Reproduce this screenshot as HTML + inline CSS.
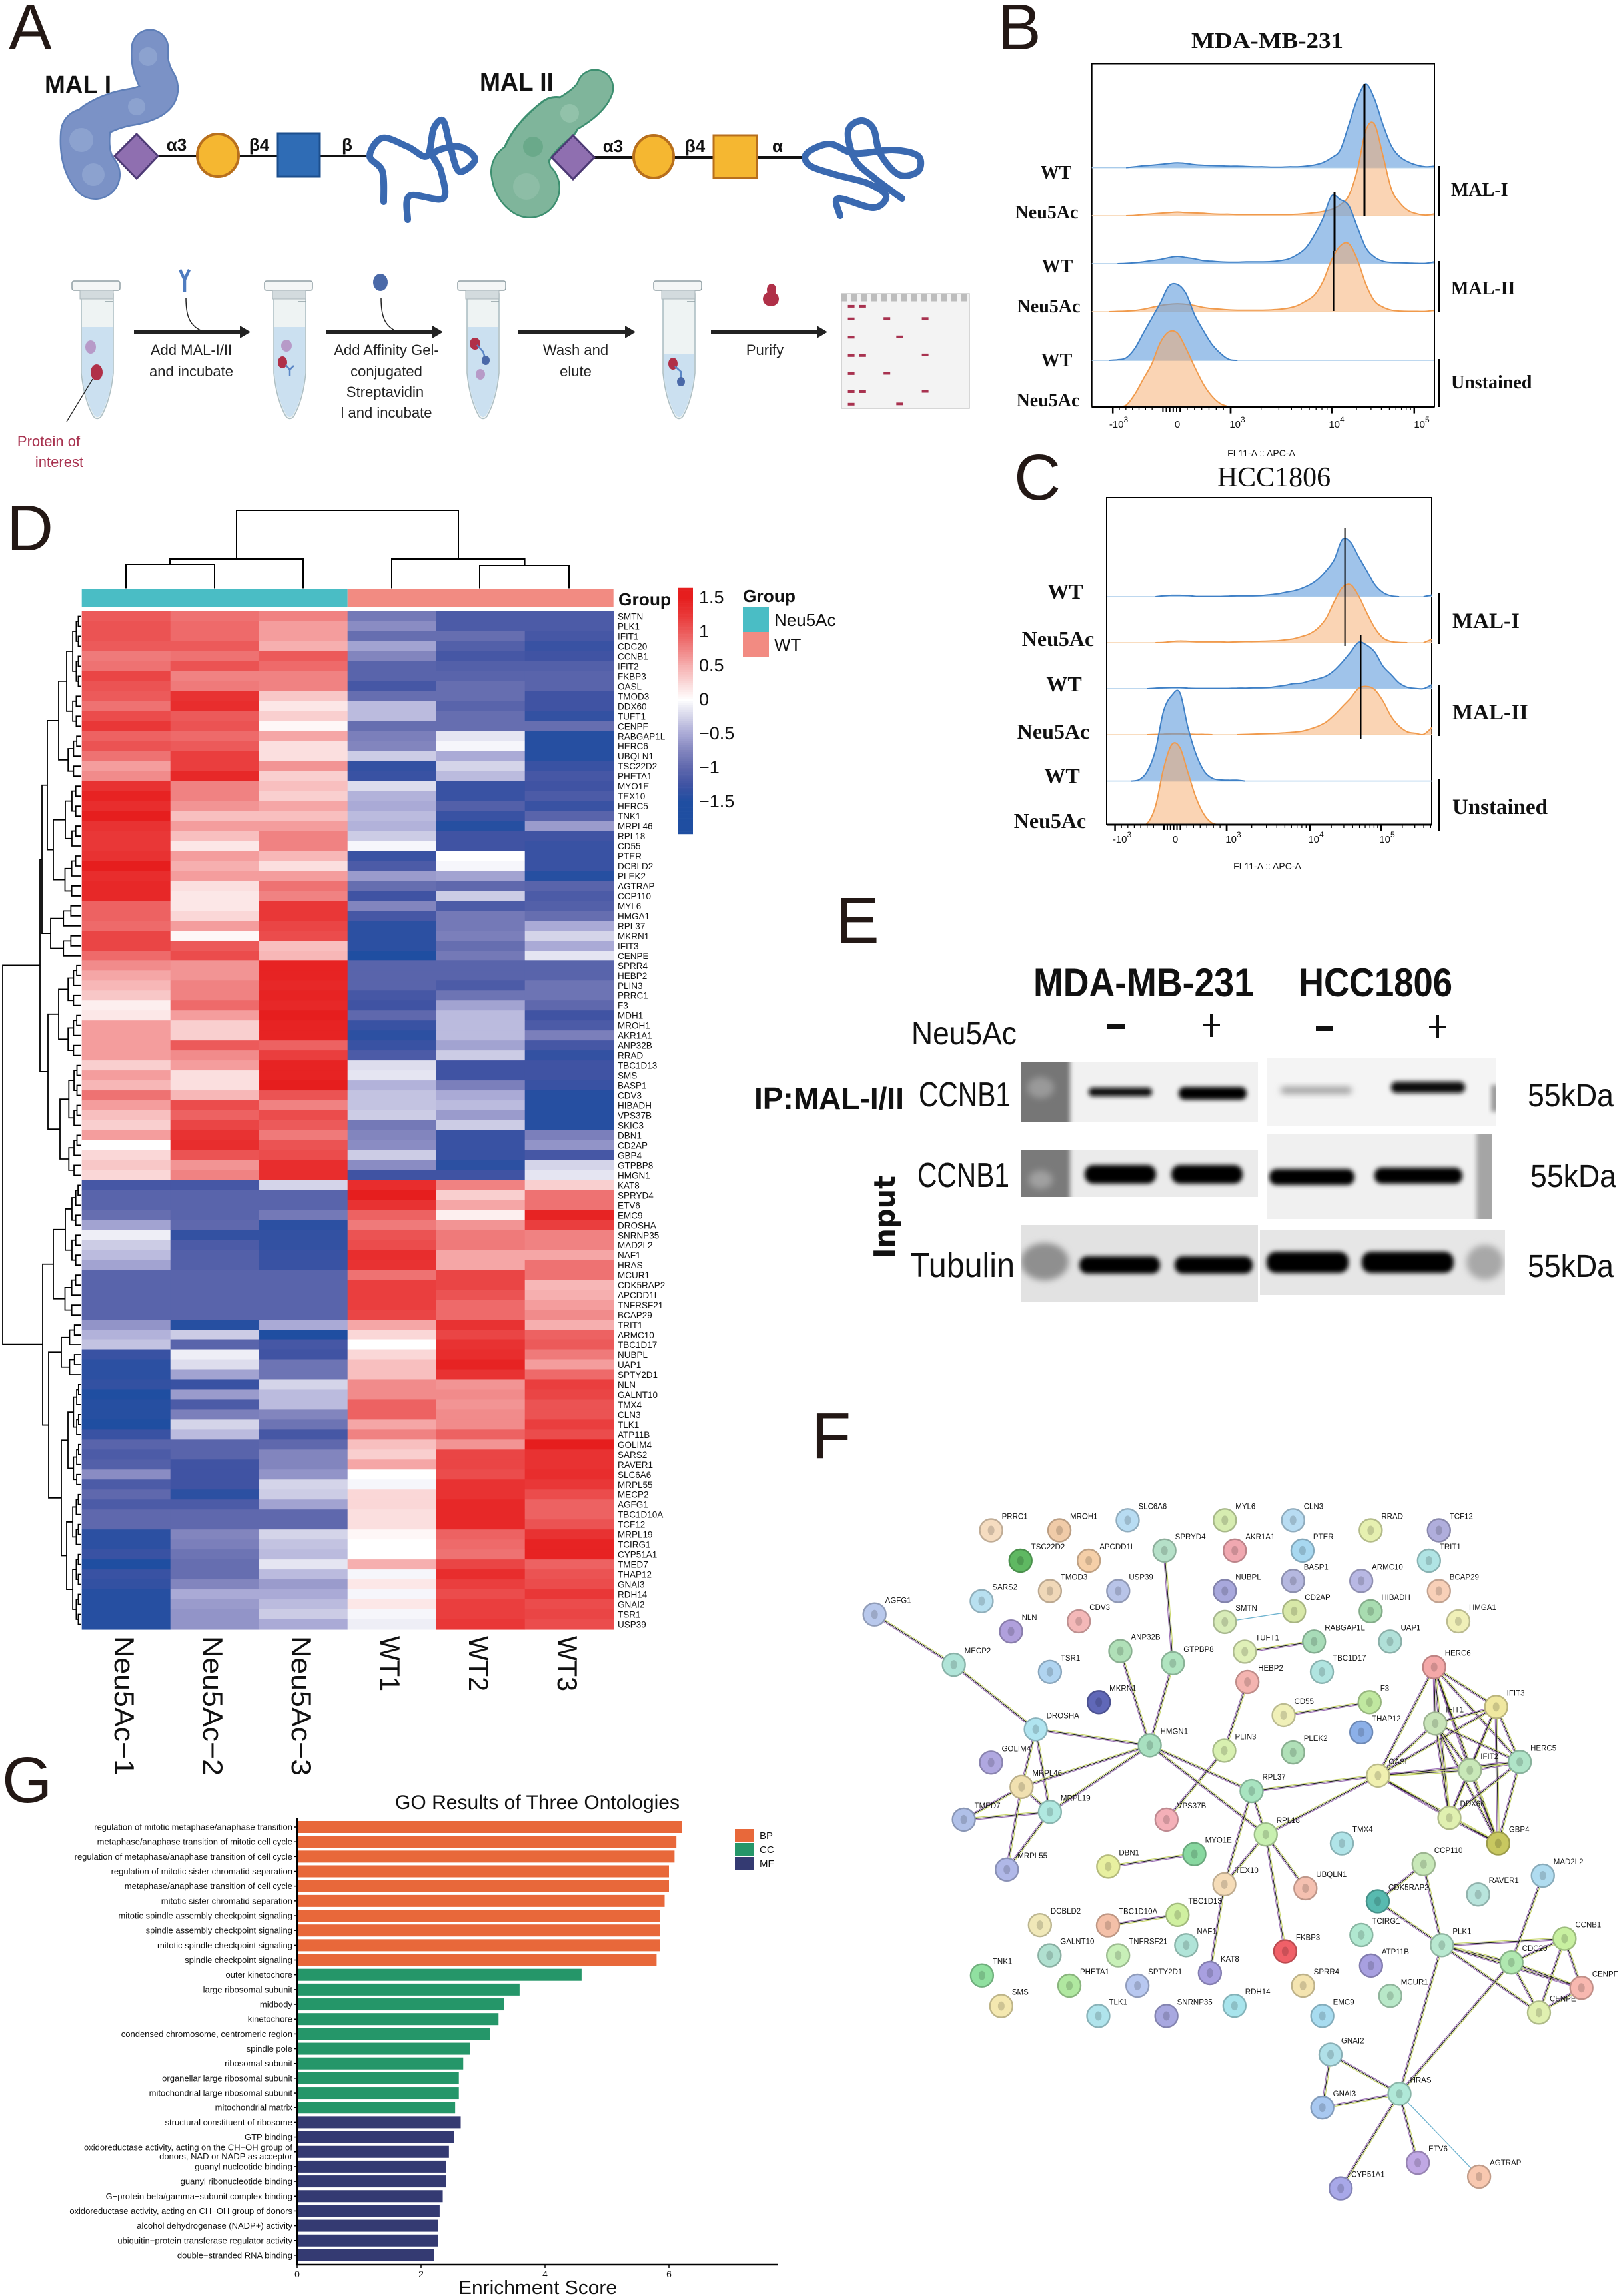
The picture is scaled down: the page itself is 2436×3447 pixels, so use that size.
<!DOCTYPE html>
<html lang="en">
<head>
<meta charset="utf-8">
<title>Neu5Ac sialylation figure panels A to G</title>
<style>
html,body{margin:0;padding:0;background:#fff;}
svg{display:block;}
text{font-family:"Liberation Sans",sans-serif;fill:#111;}
.serif{font-family:"Liberation Serif",serif;}
.letter{font-size:97px;fill:#231815;}
.wf{font-size:22px;text-anchor:middle;fill:#222;}
.sb{font-family:"Liberation Serif",serif;font-weight:bold;}
</style>
</head>
<body>
<svg id="fig" width="2436" height="3447" viewBox="0 0 2436 3447">
<defs>
<filter id="b2" x="-30%" y="-80%" width="160%" height="260%"><feGaussianBlur stdDeviation="3.5"/></filter>
<filter id="b5" x="-30%" y="-80%" width="160%" height="260%"><feGaussianBlur stdDeviation="5"/></filter>
<filter id="b9" x="-50%" y="-50%" width="200%" height="200%"><feGaussianBlur stdDeviation="9"/></filter>
<g id="tube-shape">
<path d="M-24,441 L-24,560 Q-20,600 -6,625 Q0,632 6,625 Q20,600 24,560 L24,441 Z" fill="#eef3f3" stroke="#aebfc4" stroke-width="1.6"/>
<rect x="-38" y="422" width="72" height="14" rx="3" fill="#f4f6f6" stroke="#8f9ea3" stroke-width="1.5"/>
<rect x="-26" y="436" width="50" height="13" fill="#d3dbde" stroke="#aab6ba" stroke-width="1"/>
<line x1="12" y1="453" x2="24" y2="453" stroke="#8f9ea3" stroke-width="1.5"/>
</g>
</defs>

<!-- panel letters -->
<g>
<text class="letter" x="13" y="74">A</text>
<text class="letter" x="1498" y="74">B</text>
<text class="letter" x="1522" y="750">C</text>
<text class="letter" x="10" y="826">D</text>
<text class="letter" x="1255" y="1415">E</text>
<text class="letter" x="1218" y="2189">F</text>
<text class="letter" x="3" y="2706">G</text>
</g>

<!-- PANEL A -->
<g id="panel-a">
<g fill="none" stroke-linecap="round" stroke-linejoin="round">
<path d="M225,72 Q222,100 238,125 Q248,150 200,160 Q165,165 140,182" stroke="#5f7fb8" stroke-width="57"/>
<path d="M128,200 Q125,240 143,262" stroke="#5f7fb8" stroke-width="76"/>
<path d="M225,72 Q222,100 238,125 Q248,150 200,160 Q165,165 140,182" stroke="#7b92c6" stroke-width="52"/>
<path d="M128,200 Q125,240 143,262" stroke="#7b92c6" stroke-width="71"/>
<circle cx="222" cy="85" r="14" fill="#8ca2cf"/><circle cx="205" cy="160" r="13" fill="#8ca2cf"/><circle cx="122" cy="210" r="18" fill="#8ca2cf"/><circle cx="140" cy="262" r="17" fill="#8ca2cf"/>
</g>
<g fill="none" stroke-linecap="round" stroke-linejoin="round">
<path d="M893,132 Q885,155 835,180" stroke="#3d8f70" stroke-width="57"/>
<path d="M835,180 Q790,215 785,250" stroke="#3d8f70" stroke-width="72"/>
<path d="M782,258 Q784,275 795,282" stroke="#3d8f70" stroke-width="92"/>
<path d="M893,132 Q885,155 835,180" stroke="#7fb59b" stroke-width="52"/>
<path d="M835,180 Q790,215 785,250" stroke="#7fb59b" stroke-width="66"/>
<path d="M782,258 Q784,275 795,282" stroke="#7fb59b" stroke-width="87"/>
<circle cx="855" cy="170" r="14" fill="#92c2aa"/><circle cx="800" cy="220" r="15" fill="#6aa98a"/><circle cx="790" cy="280" r="20" fill="#8dbda6"/>
</g>
<text x="67" y="140" font-size="38" font-weight="bold" textLength="100" lengthAdjust="spacingAndGlyphs">MAL I</text>
<text x="720" y="136" font-size="38" font-weight="bold" textLength="111" lengthAdjust="spacingAndGlyphs">MAL II</text>
<line x1="237" y1="234" x2="556" y2="234" stroke="#111" stroke-width="4"/>
<line x1="892" y1="236" x2="1210" y2="236" stroke="#111" stroke-width="4"/>
<polygon points="205,201 237,234 205,268 172,234" fill="#8f6fb0" stroke="#4d3a75" stroke-width="3"/>
<ellipse cx="327" cy="233" rx="31" ry="32" fill="#f5b731" stroke="#b86f1c" stroke-width="4"/>
<rect x="417" y="200" width="63" height="65" fill="#2f6cb5" stroke="#1c4f8e" stroke-width="3"/>
<polygon points="860,203 892,236 860,269 828,236" fill="#8f6fb0" stroke="#4d3a75" stroke-width="3"/>
<ellipse cx="981" cy="235" rx="30" ry="32" fill="#f5b731" stroke="#b86f1c" stroke-width="4"/>
<rect x="1071" y="203" width="65" height="64" fill="#f5b731" stroke="#b86f1c" stroke-width="3"/>
<g font-size="26" font-weight="bold" text-anchor="middle">
<text x="265" y="226">α3</text>
<text x="389" y="226">β4</text>
<text x="521" y="226">β</text>
<text x="920" y="228">α3</text>
<text x="1043" y="228">β4</text>
<text x="1167" y="228">α</text>
</g>
<path id="strand-i" fill="none" stroke="#3a69b0" stroke-width="10" stroke-linecap="round" stroke-linejoin="round"/>
<path id="strand-ii" fill="none" stroke="#3a69b0" stroke-width="10" stroke-linecap="round" stroke-linejoin="round"/>

<use href="#tube-shape" transform="translate(146,0)"/>
<use href="#tube-shape" transform="translate(435,0)"/>
<use href="#tube-shape" transform="translate(725,0)"/>
<use href="#tube-shape" transform="translate(1019,0)"/>
<g fill="#c7deef" fill-opacity=".9">
<path d="M123,491 L123,560 Q127,599 141,623 Q146,629 151,623 Q165,599 169,560 L169,491 Z"/>
<path d="M412,491 L412,560 Q416,599 430,623 Q435,629 440,623 Q454,599 458,560 L458,491 Z"/>
<path d="M702,491 L702,560 Q706,599 720,623 Q725,629 730,623 Q744,599 748,560 L748,491 Z"/>
<path d="M996,531 L996,560 Q1000,599 1014,623 Q1019,629 1024,623 Q1038,599 1042,560 L1042,531 Z"/>
</g>
<g>
<ellipse cx="136" cy="521" rx="8" ry="10" fill="#b79ac8"/>
<ellipse cx="145" cy="559" rx="9" ry="12" fill="#b03048"/>
<ellipse cx="430" cy="519" rx="8" ry="9" fill="#b79ac8"/>
<ellipse cx="424" cy="544" rx="7" ry="9" fill="#b03048"/>
<path d="M429,548 L435,555 L435,565 M441,549 L435,555" stroke="#5a86c6" stroke-width="2.5" fill="none"/>
<ellipse cx="713" cy="516" rx="8" ry="9" fill="#b03048"/>
<path d="M716,518 L725,528 L729,540" stroke="#5a86c6" stroke-width="2.5" fill="none"/>
<ellipse cx="729" cy="541" rx="6" ry="7" fill="#4a69a8"/>
<ellipse cx="721" cy="562" rx="7" ry="8" fill="#b79ac8"/>
<ellipse cx="1010" cy="546" rx="7" ry="9" fill="#b03048"/>
<path d="M1013,550 L1022,558 L1022,570" stroke="#5a86c6" stroke-width="2.5" fill="none"/>
<ellipse cx="1022" cy="573" rx="6" ry="7" fill="#4a69a8"/>
</g>
<line x1="139" y1="569" x2="100" y2="633" stroke="#222" stroke-width="1.3"/>
<g stroke="#222" stroke-width="5">
<line x1="201" y1="498.5" x2="364" y2="498.5"/>
<line x1="489" y1="498.5" x2="652" y2="498.5"/>
<line x1="778" y1="498.5" x2="941" y2="498.5"/>
<line x1="1067" y1="498.5" x2="1230" y2="498.5"/>
</g>
<g fill="#222">
<polygon points="360,489 376,498.5 360,508"/>
<polygon points="649,489 665,498.5 649,508"/>
<polygon points="938,489 954,498.5 938,508"/>
<polygon points="1226,489 1242,498.5 1226,508"/>
</g>
<path d="M279,447 C279,470 282,490 306,498" fill="none" stroke="#222" stroke-width="1.5"/>
<path d="M270,405 L277,420 L277,438 M284,405 L277,420" fill="none" stroke="#4f7cc0" stroke-width="4.5"/>
<ellipse cx="571" cy="424" rx="11" ry="13" fill="#4a69a8"/>
<path d="M572,447 C572,470 575,490 597,498" fill="none" stroke="#222" stroke-width="1.5"/>
<g fill="#b03048">
<ellipse cx="1157" cy="449" rx="12" ry="11"/>
<ellipse cx="1158" cy="435" rx="7" ry="9"/>
</g>
<g>
<text class="wf" x="287" y="533">Add MAL-I/II</text>
<text class="wf" x="287" y="565">and incubate</text>
<text class="wf" x="580" y="533">Add Affinity Gel-</text>
<text class="wf" x="580" y="565">conjugated</text>
<text class="wf" x="578" y="596">Streptavidin</text>
<text class="wf" x="580" y="627">l and incubate</text>
<text class="wf" x="864" y="533">Wash and</text>
<text class="wf" x="864" y="565">elute</text>
<text class="wf" x="1148" y="533">Purify</text>
<text class="wf" x="73" y="670" style="fill:#a8324f">Protein of</text>
<text class="wf" x="89" y="701" style="fill:#a8324f">interest</text>
</g>
<g id="gel">
<rect x="1263" y="441" width="192" height="172" fill="#f3f3f3" stroke="#c9c9c9" stroke-width="1.5"/>
<line x1="1263" y1="447" x2="1455" y2="447" stroke="#bdbdbd" stroke-width="11" stroke-dasharray="9 6"/>
</g>
</g>

<!-- PANEL B / C static -->
<g id="panel-b">
<text class="sb" x="1902" y="72" font-size="34" text-anchor="middle" textLength="228" lengthAdjust="spacingAndGlyphs">MDA-MB-231</text>
</g>
<g id="panel-c">
<text class="serif" x="1912" y="730" font-size="42" text-anchor="middle">HCC1806</text>
</g>

<!-- PANEL D -->
<g id="panel-d"></g>

<!-- PANEL E -->
<g id="panel-e">
<text x="1551" y="1496" font-size="60" font-weight="bold" textLength="331" lengthAdjust="spacingAndGlyphs">MDA-MB-231</text>
<text x="1949" y="1496" font-size="60" font-weight="bold" textLength="231" lengthAdjust="spacingAndGlyphs">HCC1806</text>
<text x="1368" y="1568" font-size="48" textLength="158" lengthAdjust="spacingAndGlyphs">Neu5Ac</text>
<g fill="#111">
<rect x="1662" y="1537" width="26" height="8"/>
<rect x="1805" y="1537" width="26" height="4"/>
<rect x="1816" y="1522" width="4" height="35"/>
<rect x="1975" y="1540" width="26" height="8"/>
<rect x="2145" y="1540" width="26" height="4"/>
<rect x="2156" y="1524" width="4" height="35"/>
</g>

<svg x="1532" y="1595" width="356" height="90">
<rect width="356" height="90" fill="#f1f1f1"/>
<rect x="-10" y="-10" width="84" height="110" fill="#767676" filter="url(#b2)"/>
<ellipse cx="30" cy="38" rx="20" ry="16" fill="#9a9a9a" filter="url(#b5)"/>
<rect x="102" y="38" width="95" height="13" rx="6" fill="#0c0c0c" filter="url(#b2)"/>
<rect x="237" y="37" width="102" height="19" rx="9" fill="#050505" filter="url(#b2)"/>
</svg>
<svg x="1901" y="1589" width="345" height="101">
<rect width="345" height="101" fill="#f4f4f4"/>
<rect x="21" y="43" width="107" height="10" rx="5" fill="#9a9a9a" filter="url(#b5)"/>
<rect x="187" y="35" width="111" height="17" rx="8" fill="#0a0a0a" filter="url(#b2)"/>
<rect x="337" y="40" width="12" height="40" fill="#999" filter="url(#b2)"/>
</svg>
<svg x="1532" y="1726" width="356" height="71">
<rect width="356" height="71" fill="#ebebeb"/>
<rect x="-10" y="-10" width="84" height="95" fill="#7a7a7a" filter="url(#b2)"/>
<ellipse cx="30" cy="45" rx="18" ry="14" fill="#a0a0a0" filter="url(#b5)"/>
<rect x="96" y="23" width="107" height="28" rx="13" fill="#020202" filter="url(#b2)"/>
<rect x="226" y="23" width="107" height="28" rx="13" fill="#020202" filter="url(#b2)"/>
</svg>
<svg x="1901" y="1702" width="339" height="128">
<rect width="339" height="128" fill="#f0f0f0"/>
<rect x="4" y="53" width="128" height="24" rx="11" fill="#020202" filter="url(#b2)"/>
<rect x="162" y="51" width="132" height="24" rx="11" fill="#020202" filter="url(#b2)"/>
<rect x="315" y="-5" width="30" height="140" fill="#a5a5a5" filter="url(#b2)"/>
</svg>
<svg x="1532" y="1839" width="356" height="115">
<rect width="356" height="115" fill="#e2e2e2"/>
<ellipse cx="36" cy="55" rx="36" ry="28" fill="#8f8f8f" filter="url(#b5)"/>
<rect x="88" y="47" width="121" height="26" rx="12" fill="#020202" filter="url(#b2)"/>
<rect x="231" y="47" width="117" height="26" rx="12" fill="#020202" filter="url(#b2)"/>
</svg>
<svg x="1891" y="1847" width="368" height="97">
<rect width="368" height="97" fill="#e6e6e6"/>
<rect x="10" y="32" width="123" height="32" rx="14" fill="#020202" filter="url(#b2)"/>
<rect x="153" y="32" width="138" height="32" rx="14" fill="#020202" filter="url(#b2)"/>
<ellipse cx="338" cy="48" rx="28" ry="26" fill="#a8a8a8" filter="url(#b5)"/>
</svg>

<text x="1132" y="1665" font-size="46" font-weight="bold" textLength="225" lengthAdjust="spacingAndGlyphs">IP:MAL-I/II</text>
<text x="1379" y="1661" font-size="52" textLength="138" lengthAdjust="spacingAndGlyphs">CCNB1</text>
<text x="1377" y="1782" font-size="52" textLength="138" lengthAdjust="spacingAndGlyphs">CCNB1</text>
<text x="1366" y="1917" font-size="52" textLength="157" lengthAdjust="spacingAndGlyphs">Tubulin</text>
<text transform="translate(1343,1889) rotate(-90)" font-size="44" font-weight="bold" textLength="124" lengthAdjust="spacingAndGlyphs" style="font-family:'DejaVu Sans',sans-serif">Input</text>
<text x="2293" y="1661" font-size="48" textLength="129" lengthAdjust="spacingAndGlyphs">55kDa</text>
<text x="2297" y="1782" font-size="48" textLength="129" lengthAdjust="spacingAndGlyphs">55kDa</text>
<text x="2293" y="1917" font-size="48" textLength="129" lengthAdjust="spacingAndGlyphs">55kDa</text>
</g>

<g id="panel-f"></g>
<g id="panel-g"></g>
</svg>

<script>
/* ---------- panel B data: histogram heights per channel bin ---------- */
const bWt1 = [0,0,0,0,0,3,6,8,11,14,16,14,10,8,7,6,5,5,4,3,3,2,2,3,3,5,9,17,33,58,140,225,273,225,140,70,35,18,8,3,5];
const bNeu1 = [0,0,0,0,0,1,4,6,8,10,12,10,9,8,6,5,5,4,4,4,4,4,4,4,5,7,10,14,21,36,66,150,280,300,196,86,41,16,6,2,6];
const bWt2 = [0,0,0,0,1,3,6,10,14,20,24,20,16,10,8,6,5,5,6,6,6,7,10,16,30,52,95,150,222,210,190,120,52,22,8,4,3,2,1,1,6];
const bNeu2 = [0,0,0,1,2,4,8,14,20,24,26,24,20,14,10,8,6,5,5,5,5,6,8,12,20,35,55,100,170,215,222,170,90,35,15,5,2,1,1,1,5];
const bWt3 = [0,0,0,2,8,38,88,138,188,243,248,218,148,98,53,23,3,0,0,0,0,0,0,0,0,0,0,0,0,0,0,0,0,0,0,0,0,0,0,0,0];
const bNeu3 = [0,0,0,0,5,40,90,140,210,245,240,190,130,75,35,10,0,0,0,0,0,0,0,0,0,0,0,0,0,0,0,0,0,0,0,0,0,0,0,0,0];
/* ---------- panel C data ---------- */
const cWt1 = [0,0,0,0,0,0,0,3,5,5,4,1,1,1,1,2,3,3,3,4,7,10,16,21,30,43,63,93,133,205,195,143,93,43,15,3,0,0,0,0,6];
const cNeu1 = [0,0,0,0,0,0,0,1,4,6,5,3,3,3,3,2,3,4,4,5,6,7,10,14,22,32,52,87,147,197,207,167,107,52,17,4,1,0,0,0,12];
const cWt2 = [0,0,0,0,0,0,2,3,4,4,2,1,1,1,1,1,2,2,3,3,4,8,12,18,20,28,35,45,65,95,130,165,155,130,80,50,20,5,1,0,14];
const cNeu2 = [0,0,0,0,0,0,1,2,3,3,2,1,1,0,0,0,0,1,2,3,4,5,7,9,12,20,30,45,70,100,130,165,172,160,120,65,30,10,5,1,25];
const cWt3 = [0,0,0,0,5,35,110,250,305,315,190,95,35,10,4,3,3,0,0,0,0,0,0,0,0,0,0,0,0,0,0,0,0,0,0,0,0,0,0,0,0];
const cNeu3 = [0,0,0,0,0,5,65,200,285,275,185,95,35,5,0,0,0,0,0,0,0,0,0,0,0,0,0,0,0,0,0,0,0,0,0,0,0,0,0,0,0];
const flowGroupLabels = ['WT','Neu5Ac','WT','Neu5Ac','WT','Neu5Ac'];
const flowBracketLabels = ['MAL-I','MAL-II','Unstained'];
const flowTickExponents = ['3','','3','4','5'];
const flowTickBases = ['-10','0','10','10','10'];

/* ---------- panel D data ---------- */
const sampleLabels = ['Neu5Ac−1','Neu5Ac−2','Neu5Ac−3','WT1','WT2','WT3'];
const geneLabels = ['SMTN','PLK1','IFIT1','CDC20','CCNB1','IFIT2','FKBP3','OASL','TMOD3','DDX60','TUFT1','CENPF','RABGAP1L','HERC6','UBQLN1','TSC22D2','PHETA1','MYO1E','TEX10','HERC5','TNK1','MRPL46','RPL18','CD55','PTER','DCBLD2','PLEK2','AGTRAP','CCP110','MYL6','HMGA1','RPL37','MKRN1','IFIT3','CENPE','SPRR4','HEBP2','PLIN3','PRRC1','F3','MDH1','MROH1','AKR1A1','ANP32B','RRAD','TBC1D13','SMS','BASP1','CDV3','HIBADH','VPS37B','SKIC3','DBN1','CD2AP','GBP4','GTPBP8','HMGN1','KAT8','SPRYD4','ETV6','EMC9','DROSHA','SNRNP35','MAD2L2','NAF1','HRAS','MCUR1','CDK5RAP2','APCDD1L','TNFRSF21','BCAP29','TRIT1','ARMC10','TBC1D17','NUBPL','UAP1','SPTY2D1','NLN','GALNT10','TMX4','CLN3','TLK1','ATP11B','GOLIM4','SARS2','RAVER1','SLC6A6','MRPL55','MECP2','AGFG1','TBC1D10A','TCF12','MRPL19','TCIRG1','CYP51A1','TMED7','THAP12','GNAI3','RDH14','GNAI2','TSR1','USP39'];
const heatmapRows = [
[1,.85,.75,-.85,-1.15,-1.15],[1.05,.9,.6,-.7,-1.15,-1.15],[1.05,.9,.6,-.95,-.95,-1.2],[1,1,.5,-.55,-1.1,-1.3],[.8,.85,1,-.75,-1.2,-1.25],[.85,1.05,.9,-1.05,-1.1,-1.1],[1.15,.75,.75,-1.05,-1.05,-1.05],[1.05,.8,.75,-1.2,-.95,-1.05],[1,1.3,.35,-.95,-.95,-1.25],[.85,1.35,.15,-.4,-1.05,-1.25],[1.1,1,.3,-.4,-.95,-1.35],[1.25,1.05,.05,-.95,-.95,-.95],
[.95,.9,.55,-.8,-.15,-1.45],[1.05,1,.2,-.75,-.05,-1.45],[.85,1.2,.2,-.3,-.5,-1.45],[.6,1.2,.65,-1.35,-.25,-1.3],[.7,1.4,.3,-1.3,-.4,-1.2],[1.3,.75,.4,-.2,-1.3,-1.25],[1.45,.75,.3,-.45,-1.3,-1.15],[1.35,.65,.55,-.5,-1.1,-1.3],[1.5,.4,.4,-.4,-1.3,-1.05],[1.3,.6,.6,-.45,-1.45,-.6],[1.25,.4,.75,-.3,-1.25,-1.25],[1.25,.15,.75,-.05,-1.25,-1.3],
[1.3,.6,.45,-1.3,0,-1.3],[1.5,.5,.2,-1.15,-.05,-1.3],[1.35,.6,.6,-.6,-.55,-1.45],[1.4,.2,.85,-.95,-1,-1.05],[1.4,.15,.75,-1.25,-.3,-1.15],[.95,.15,1.25,-.75,-1.15,-1.1],[.95,.25,1.25,-1.2,-.85,-.95],[.9,.6,1.15,-1.4,-.85,-.5],[1.15,.05,1.1,-1.4,-.8,-.25],[1.15,1,.4,-1.4,-.95,-.5],[.9,1.1,.45,-1.5,-.85,-.15],
[.7,.65,1.45,-1.05,-1.05,-1.05],[.55,.65,1.45,-1.05,-1.05,-1.05],[.45,.75,1.4,-1.05,-1.15,-.9],[.35,.75,1.45,-1.2,-.9,-.9],[.1,.9,1.4,-1.25,-.55,-1],[.15,.6,1.5,-1,-.4,-1.25],[.6,.3,1.45,-1.3,-.4,-1.15],[.6,.3,1.45,-1.4,-.4,-.8],[.6,1,.95,-1.3,-.55,-1.2],[.6,.7,1.2,-1.15,-.3,-1.35],[.3,.6,1.45,-.2,-1.25,-1.25],[.6,.2,1.45,-.15,-1.25,-1.25],[.45,.2,1.5,-.45,-.8,-1.3],
[.85,.45,1.05,-.35,-.5,-1.45],[.6,1.1,.75,-.35,-.4,-1.45],[.4,.95,1.1,-.3,-.6,-1.45],[.3,1.15,1,-.85,-.3,-1.45],[.6,1.3,.8,-.75,-1.3,-.8],[0,1.35,1.05,-.7,-1.3,-.65],[.25,1.05,1.1,-.3,-1.3,-1.2],[.35,.65,1.35,-.7,-1.4,-.25],[.25,.75,1.35,-1.25,-1.25,-.15],
[-1.2,-1.2,-.25,1.35,.75,.3],[-1.05,-1.05,-1.05,1.5,.3,.85],[-1.05,-1.05,-1.05,1.3,.55,.85],[-.95,-1.05,-.85,.95,.1,1.45],[-.55,-1,-1.4,.8,.65,1.2],[-.1,-1.35,-1.35,1.05,.8,.75],[-.3,-1.15,-1.35,1.1,.8,.75],[-.4,-1.1,-1.3,1.35,.55,.55],[-.55,-1.1,-1.3,1.3,.55,.85],[-1.05,-1.05,-1.05,.85,1.15,.85],[-1.05,-1.05,-1.05,1.2,1.15,.45],[-1.05,-1.05,-1.05,1.2,1.05,.5],[-1.05,-1.05,-1.05,1.2,.9,.6],[-1.05,-1.05,-1.05,1.15,.9,.7],
[-.65,-1.45,-.5,.55,1.3,.5],[-.45,-.3,-1.5,.25,1.15,.95],[-.35,-1.05,-1.2,0,1.3,1],[-1.3,-.1,-1.25,.25,1.35,.8],[-1.4,-.2,-.9,.4,1.45,.6],[-1.4,-.55,-.9,.4,1.3,.9],[-1.35,-1.3,-.25,.7,.65,1.2],[-1.5,-.6,-.4,.7,.7,1.15],[-1.45,-1.15,-.4,.95,.65,1.05],[-1.45,-.8,-.75,.95,.7,1.05],[-1.5,-.25,-.9,.55,.7,1.2],[-1.3,-.4,-1.2,.75,.95,1.1],[-1.05,-1.05,-1,.4,.65,1.5],[-1.15,-1.05,-.75,.3,1.15,1.3],[-1.1,-1.25,-.75,.55,1.15,1.3],[-.7,-1.25,-.65,0,1.1,1.35],[-1.15,-1.25,-.25,-.05,1.3,1.25],[-1,-1.4,-.3,.25,1.3,1.1],[-1.15,-1.15,-.55,.25,1.4,.95],[-1,-1,-1,.2,1.4,.95],[-1,-1,-1,.2,1.4,1.05],
[-1.4,-.75,-.25,.05,.95,1.3],[-1.4,-.8,-.35,0,.9,1.45],[-1.3,-.9,-.4,0,.85,1.45],[-1.5,-.95,-.15,.5,1.15,.95],[-1.3,-.95,-.4,-.05,1.35,1.05],[-1.35,-.75,-.6,.15,1.2,1.1],[-1.45,-.5,-.5,-.05,1.1,1.25],[-1.45,-.6,-.4,.15,1.2,1.1],[-1.45,-.65,-.3,-.05,1.2,1.15],[-1.45,-.65,-.5,-.1,1.25,1.1]];
const colorbarTicks = [1.5,1,.5,0,-.5,-1,-1.5];

/* ---------- panel G data ---------- */
const goTerms = ['regulation of mitotic metaphase/anaphase transition','metaphase/anaphase transition of mitotic cell cycle','regulation of metaphase/anaphase transition of cell cycle','regulation of mitotic sister chromatid separation','metaphase/anaphase transition of cell cycle','mitotic sister chromatid separation','mitotic spindle assembly checkpoint signaling','spindle assembly checkpoint signaling','mitotic spindle checkpoint signaling','spindle checkpoint signaling','outer kinetochore','large ribosomal subunit','midbody','kinetochore','condensed chromosome, centromeric region','spindle pole','ribosomal subunit','organellar large ribosomal subunit','mitochondrial large ribosomal subunit','mitochondrial matrix','structural constituent of ribosome','GTP binding','oxidoreductase activity, acting on the CH−OH group of\ndonors, NAD or NADP as acceptor','guanyl nucleotide binding','guanyl ribonucleotide binding','G−protein beta/gamma−subunit complex binding','oxidoreductase activity, acting on CH−OH group of donors','alcohol dehydrogenase (NADP+) activity','ubiquitin−protein transferase regulator activity','double−stranded RNA binding'];
const goScores = [6.21,6.12,6.09,6.0,6.0,5.93,5.86,5.86,5.86,5.8,4.59,3.59,3.34,3.25,3.11,2.79,2.68,2.61,2.61,2.55,2.64,2.53,2.45,2.4,2.4,2.35,2.3,2.27,2.27,2.21];
const goOntology = ['BP','BP','BP','BP','BP','BP','BP','BP','BP','BP','CC','CC','CC','CC','CC','CC','CC','CC','CC','CC','MF','MF','MF','MF','MF','MF','MF','MF','MF','MF'];
const goLegend = ['BP','CC','MF'];
const goTicks = [0,2,4,6];

/* ---------- panel F data ---------- */
const networkNodesUpper = [['PRRC1',365,398,'#f5dcc0'],['MROH1',495,398,'#f0cba8'],['SLC6A6',625,364,'#b8dcf2'],['MYL6',810,364,'#d6ecb0'],['CLN3',940,364,'#b8dcf2'],['RRAD',1088,398,'#e6f0b0'],['TCF12',1218,398,'#b0aedc'],['TSC22D2',421,500,'#5fb862'],['APCDD1L',551,500,'#f5cfa8'],['SPRYD4',695,466,'#b5e0c8'],['AKR1A1',829,466,'#f0a8b0'],['PTER',958,466,'#a8d8f0'],['TRIT1',1199,500,'#b0e4e4'],['BASP1',940,568,'#b5b8e0'],['ARMC10',1070,568,'#b8b8e4'],['SARS2',347,636,'#b8e0f0'],['TMOD3',477,602,'#f0d8b8'],['USP39',607,602,'#b8c4e8'],['NUBPL',810,602,'#a8a8dc'],['CD2AP',942,670,'#d8e8a8'],['HIBADH',1088,670,'#a8dcb0'],['BCAP29',1218,602,'#f8d0b8'],['AGFG1',143,681,'#b8c8ec'],['NLN',403,738,'#b0a0dc'],['CDV3',532,704,'#f4b8b8'],['SMTN',810,706,'#d8ecb8'],['HMGA1',1255,704,'#f0f0b8'],['ANP32B',611,804,'#b0e0b8'],['GTPBP8',711,845,'#b0e4c0'],['TUFT1',848,806,'#e0f0b8'],['RABGAP1L',980,772,'#a8dcb8'],['UAP1',1125,772,'#b0e0d8'],['MECP2',294,850,'#b0e4d8'],['TSR1',477,874,'#b0d4f0'],['TBC1D17',995,874,'#b0e4e0'],['HERC6',1209,858,'#f4a8a8'],['HEBP2',853,908,'#f4b4b0'],['MKRN1',570,976,'#6068b8'],['F3',1086,976,'#c0e8a0'],['CD55',922,1020,'#f0f0b8'],['IFIT3',1327,992,'#f0e8a0'],['IFIT1',1211,1048,'#c8e4b8'],['THAP12',1070,1078,'#8cb0e8'],['DROSHA',450,1068,'#b0e4f0'],['HMGN1',667,1122,'#a8e0c0'],['PLIN3',809,1140,'#d8f0b0'],['PLEK2',940,1146,'#b0e0b8'],['GOLIM4',365,1180,'#b0a8e0'],['HERC5',1372,1178,'#b0e4c8'],['IFIT2',1277,1206,'#c8e8b8'],['OASL',1102,1224,'#f0f0b0'],['MRPL46',423,1262,'#f0e0b0'],['RPL37',861,1276,'#a8e4c0'],['MRPL19',477,1346,'#b0e8e0'],['TMED7',313,1372,'#b0c0e8'],['VPS37B',699,1372,'#f4b0b8'],['DDX60',1238,1366,'#e0f0b0'],['RPL18',888,1422,'#c8f0b0'],['TMX4',1033,1452,'#b0e4e8'],['GBP4',1331,1452,'#c8c860'],['MYO1E',752,1488,'#88d8a0'],['DBN1',588,1530,'#e8f0a0'],['MRPL55',395,1540,'#b0b8e8']];
const networkNodesLower = [['TEX10',742,235,'#f5dcb8'],['UBQLN1',910,248,'#f4c0b0'],['CCP110',1155,170,'#c8e8b8'],['MAD2L2',1402,207,'#b0dcf0'],['RAVER1',1268,268,'#b8e4dc'],['CDK5RAP2',1060,290,'#58bab0'],['TBC1D13',645,334,'#d0f0a0'],['TBC1D10A',501,368,'#f4c0a8'],['DCBLD2',360,367,'#f0e8b8'],['GALNT10',380,465,'#b0e0d0'],['TNFRSF21',522,465,'#c8f0b8'],['NAF1',663,432,'#b0e4d8'],['KAT8',712,522,'#a8a0e0'],['FKBP3',868,452,'#f06068'],['TCIRG1',1026,399,'#b0e8d0'],['ATP11B',1046,498,'#a8a0e0'],['PLK1',1193,432,'#b8e8d0'],['CCNB1',1447,411,'#c8f0a0'],['CDC20',1337,488,'#b0e8b0'],['CENPF',1482,570,'#f8b8b0'],['CENPE',1394,650,'#e0f0b0'],['TNK1',240,530,'#90e0a0'],['PHETA1',421,563,'#b0e8a0'],['SPTY2D1',562,563,'#b8c8f0'],['SPRR4',905,563,'#f4e4b0'],['MCUR1',1086,596,'#b8e8c8'],['SMS',280,629,'#f4e8b0'],['TLK1',481,661,'#b0e4ec'],['SNRNP35',622,661,'#a8a8e0'],['RDH14',763,628,'#a8e4ec'],['EMC9',945,661,'#a8dcf0'],['GNAI2',962,786,'#b0e0e8'],['GNAI3',945,958,'#a8c8f0'],['HRAS',1105,913,'#b0e8d8'],['ETV6',1143,1137,'#c0a8e4'],['AGTRAP',1270,1182,'#f8c8b0'],['CYP51A1',983,1220,'#a8a8e8']];
const networkEdges = [['AGFG1','MECP2'],['MECP2','DROSHA'],['DROSHA','HMGN1'],['DROSHA','MRPL46'],['DROSHA','MRPL19'],['MRPL46','HMGN1'],['MRPL19','HMGN1'],['MRPL46','MRPL19'],['MRPL46','TMED7'],['TMED7','MRPL19'],['MRPL46','MRPL55'],['MRPL19','MRPL55'],['ANP32B','HMGN1'],['GTPBP8','HMGN1'],['SPRYD4','GTPBP8'],['HEBP2','PLIN3'],['PLIN3','VPS37B'],['HMGN1','RPL37'],['HMGN1','RPL18'],['RPL37','RPL18'],['RPL37','OASL'],['RPL18','OASL'],['RPL37','TEX10'],['RPL18','TEX10'],['RPL18','UBQLN1'],['RPL18','FKBP3'],['TEX10','KAT8'],['TUFT1','RABGAP1L'],['CD55','F3'],['DBN1','MYO1E'],['TBC1D13','TBC1D10A'],['HERC6','IFIT3'],['HERC6','IFIT1'],['HERC6','IFIT2'],['HERC6','HERC5'],['HERC6','OASL'],['HERC6','DDX60'],['HERC6','GBP4'],['IFIT3','IFIT1'],['IFIT3','IFIT2'],['IFIT3','HERC5'],['IFIT3','OASL'],['IFIT3','DDX60'],['IFIT3','GBP4'],['IFIT1','IFIT2'],['IFIT1','HERC5'],['IFIT1','OASL'],['IFIT1','DDX60'],['IFIT1','GBP4'],['IFIT2','HERC5'],['IFIT2','OASL'],['IFIT2','DDX60'],['IFIT2','GBP4'],['HERC5','OASL'],['HERC5','DDX60'],['HERC5','GBP4'],['OASL','DDX60'],['OASL','GBP4'],['DDX60','GBP4'],['CCP110','CDK5RAP2'],['CCP110','PLK1'],['CDK5RAP2','PLK1'],['PLK1','CCNB1'],['PLK1','CDC20'],['PLK1','CENPF'],['PLK1','CENPE'],['CCNB1','CDC20'],['CCNB1','CENPF'],['CCNB1','CENPE'],['CDC20','CENPF'],['CDC20','CENPE'],['CENPF','CENPE'],['MAD2L2','CDC20'],['PLK1','HRAS'],['CDC20','HRAS'],['HRAS','GNAI2'],['HRAS','GNAI3'],['GNAI2','GNAI3'],['HRAS','ETV6'],['HRAS','CYP51A1']];
const networkThinEdges = [['SMTN','CD2AP'],['HRAS','AGTRAP']];

/* ---------- helpers ---------- */
const svgRoot = document.getElementById('fig');
const svgNs = svgRoot.namespaceURI;
function mk(tag, attrs, parent){
  const el = document.createElementNS(svgNs, tag);
  for (const k in attrs) el.setAttribute(k, attrs[k]);
  parent.appendChild(el);
  return el;
}
function smooth(pts){
  let d = 'M' + pts[0][0] + ',' + pts[0][1];
  for (let i = 0; i < pts.length - 1; i++){
    const p0 = pts[Math.max(i - 1, 0)], p1 = pts[i], p2 = pts[i + 1], p3 = pts[Math.min(i + 2, pts.length - 1)];
    const c1x = p1[0] + (p2[0] - p0[0]) / 6, c1y = p1[1] + (p2[1] - p0[1]) / 6;
    const c2x = p2[0] - (p3[0] - p1[0]) / 6, c2y = p2[1] - (p3[1] - p1[1]) / 6;
    d += ' C' + c1x.toFixed(1) + ',' + c1y.toFixed(1) + ' ' + c2x.toFixed(1) + ',' + c2y.toFixed(1) + ' ' + p2[0].toFixed(1) + ',' + p2[1].toFixed(1);
  }
  return d;
}
function darken(hex, f){
  const n = parseInt(hex.slice(1), 16);
  return 'rgb(' + Math.round((n >> 16) * f) + ',' + Math.round(((n >> 8) & 255) * f) + ',' + Math.round((n & 255) * f) + ')';
}

/* ---------- panel A decoration ---------- */
document.getElementById('strand-i').setAttribute('d', smooth([[576,303],[574,257],[555,234],[574,207],[612,220],[641,234],[651,193],[665,181],[675,216],[689,257],[713,239],[689,220],[651,230],[662,257],[665,298],[615,294],[612,330]]));
document.getElementById('strand-ii').setAttribute('d', smooth([[1261,324],[1258,298],[1311,312],[1330,294],[1302,275],[1254,262],[1215,248],[1211,230],[1245,216],[1283,230],[1340,225],[1378,234],[1378,257],[1349,262],[1321,230],[1311,193],[1292,181],[1273,197],[1283,239],[1311,266],[1354,298]]));
const gelBandPlaces = [[1335,1002],[1353,1002],[1335,1043],[1391,1042],[1451,1042],[1335,1103],[1411,1102],[1335,1163],[1353,1163],[1451,1161],[1335,1222],[1391,1221],[1335,1281],[1353,1281],[1451,1280],[1335,1322],[1411,1321]];
const gelGroup = document.getElementById('gel');
gelBandPlaces.forEach(function(p){
  const band = mk('rect', {x: p[0] * .957 - 5, y: p[1] * .459 - 2, width: 10, height: 4, fill: '#a8324f'}, gelGroup);
  
  
});

/* ---------- panels B & C: flow ridgelines ---------- */
function drawFlow(cfg){
  const g = document.getElementById(cfg.id);
  const xAxis = function(ch){ return cfg.left + ch / 40 * (cfg.right - cfg.left); };
  const yAxis = function(v, base){ return base - v * cfg.ky; };
  const frame = mk('rect', {x: cfg.left, y: cfg.top, width: cfg.right - cfg.left, height: cfg.bottom - cfg.top, fill: '#fff', stroke: '#000', 'stroke-width': 2}, g);
  
  
  cfg.series.forEach(function(vals, s){
    const base = cfg.baselines[s];
    const blue = s % 2 === 0;
    const pts = vals.map(function(v, i){ return [xAxis(i), yAxis(v, base)]; });
    const line = smooth(pts);
    const area = mk('path', {d: line + ' L' + cfg.right + ',' + base + ' L' + cfg.left + ',' + base + ' Z', fill: blue ? 'rgba(95,155,220,.6)' : 'rgba(245,170,105,.5)', stroke: 'none'}, g);
    
    
    const zeroLine = mk('line', {x1: cfg.left, x2: cfg.right, y1: base, y2: base, stroke: blue ? '#a9cbea' : '#f7d2ac', 'stroke-width': 1.6}, g);
    
    
    let run = [];
    vals.forEach(function(v, i){
      const on = v > 0 || vals[i - 1] > 0 || vals[i + 1] > 0;
      if (on) run.push(pts[i]);
      if ((!on || i === vals.length - 1) && run.length){
        if (run.length > 1){
          const curve = mk('path', {d: smooth(run), fill: 'none', stroke: blue ? '#3f80c6' : '#f09a4c', 'stroke-width': 2}, g);
          
          
        }
        run = [];
      }
    });
    const t = mk('text', {x: cfg.labelX[s], y: cfg.labelY[s], 'font-size': cfg.labelSize, 'text-anchor': 'middle', 'class': 'sb'}, g);
    t.textContent = flowGroupLabels[s];
    
    
  });
  cfg.medians.forEach(function(m){
    const l = mk('line', {x1: m[0], x2: m[0], y1: m[1], y2: m[2], stroke: '#000', 'stroke-width': m[3]}, g);
    
    
  });
  cfg.brackets.forEach(function(b, i){
    const l = mk('line', {x1: cfg.right + cfg.bracketGap, x2: cfg.right + cfg.bracketGap, y1: b[0], y2: b[1], stroke: '#000', 'stroke-width': 3}, g);
    
    
    const t = mk('text', {x: cfg.bracketTextX, y: b[2], 'font-size': cfg.bracketSize, 'class': 'sb'}, g);
    t.textContent = flowBracketLabels[i];
    
    
  });
  const axisLine = mk('line', {x1: cfg.left, x2: cfg.right, y1: cfg.bottom, y2: cfg.bottom, stroke: '#000', 'stroke-width': 3}, g);
  
  
  const tickAt = function(ch, len, w){
    if (ch > 40) return;
    const tk = mk('line', {x1: xAxis(ch), x2: xAxis(ch), y1: cfg.bottom, y2: cfg.bottom + len, stroke: '#000', 'stroke-width': w}, g);
    
    
  };
  cfg.majors.forEach(function(ch){ tickAt(ch, 10, 2.5); });
  for (let d = 2; d < 4; d++){
    for (let k = 2; k < 10; k++){
      tickAt(cfg.majors[d] + Math.log10(k) * (cfg.majors[d + 1] - cfg.majors[d]), 5, 1.3);
    }
  }
  for (let k = 2; k < 10; k++){
    tickAt(cfg.majors[4] + Math.log10(k) * (cfg.majors[4] - cfg.majors[3]), 5, 1.3);
  }
  for (let i = 1; i < 7; i++){ tickAt(cfg.majors[0] + i * (cfg.zero - 1.5 - cfg.majors[0]) / 7, 5, 1.3); }
  for (let i = 0; i < 6; i++){ tickAt(cfg.zero - 1 + i * .4, 8, 2); }
  for (let i = 1; i < 7; i++){ tickAt(cfg.zero + 1 + i * (cfg.majors[2] - cfg.zero - 1) / 7, 5, 1.3); }
  flowTickBases.forEach(function(base, i){
    const lab = mk('text', {x: cfg.tickLabelX[i], y: cfg.tickLabelY, 'font-size': 15, 'text-anchor': 'middle', 'fill': '#222'}, g);
    lab.textContent = base;
    
    
    if (flowTickExponents[i]){
      const sup = mk('tspan', {dy: -8, 'font-size': 12}, lab);
      sup.textContent = flowTickExponents[i];
    }
  });
  const axisTitle = mk('text', {x: cfg.titleX, y: cfg.titleY, 'font-size': 14, 'text-anchor': 'middle'}, g);
  axisTitle.textContent = 'FL11-A :: APC-A';
  
  
}
drawFlow({
  id: 'panel-b', left: 1638.7, right: 2153, top: 95.5, bottom: 610.6, ky: .459,
  series: [bWt1, bNeu1, bWt2, bNeu2, bWt3, bNeu3],
  baselines: [251.6, 324, 396, 468, 541, 610.6],
  labelX: [1585, 1571, 1587, 1574, 1586, 1573], labelY: [268, 328, 409, 469, 550, 610], labelSize: 28,
  medians: [[2048, 126, 325, 3], [2003, 288, 377, 3], [2001.6, 377, 467, 2]],
  brackets: [[249, 325, 294], [392, 468, 442], [539, 611, 583]], bracketGap: 7, bracketTextX: 2178, bracketSize: 28,
  majors: [2.45, 16.2, 16.2, 28, 37.65], zero: 9.3,
  tickLabelX: [1679, 1767, 1857, 2006, 2134], tickLabelY: 642, titleX: 1893, titleY: 685
});
drawFlow({
  id: 'panel-c', left: 1661, right: 2149, top: 747, bottom: 1238, ky: .421,
  series: [cWt1, cNeu1, cWt2, cNeu2, cWt3, cNeu3],
  baselines: [896, 965, 1034, 1103, 1172.6, 1238],
  labelX: [1599, 1588, 1597, 1581, 1594, 1576], labelY: [899, 970, 1038, 1109, 1175.5, 1243], labelSize: 32,
  medians: [[2018.6, 793, 970, 2], [2042.5, 954, 1110, 2]],
  brackets: [[890, 967, 943], [1028, 1105, 1080], [1170, 1248, 1222]], bracketGap: 11, bracketTextX: 2180, bracketSize: 33,
  majors: [1.03, 14.76, 14.76, 25, 33.75], zero: 8.05,
  tickLabelX: [1684, 1764, 1851, 1975, 2082], tickLabelY: 1265, titleX: 1902, titleY: 1305
});

/* ---------- panel D: heatmap ---------- */
const heatLeft = 122.7, heatTop = 918, heatColW = 133, heatRowH = 14.98;
const heatColorStops = [[-1.5,31,78,161],[-1.25,64,83,163],[-1,95,104,173],[-.75,130,133,190],[-.5,170,170,214],[-.25,212,212,233],[0,255,255,255],[.25,250,215,215],[.5,246,175,175],[.75,240,130,130],[1,236,90,90],[1.25,233,55,55],[1.5,230,30,30]];
function heatColor(v){
  const c = Math.max(-1.5, Math.min(1.5, v));
  let i = 0;
  while (i < heatColorStops.length - 2 && c > heatColorStops[i + 1][0]) i++;
  const a = heatColorStops[i], b = heatColorStops[i + 1], t = (c - a[0]) / (b[0] - a[0]);
  return 'rgb(' + Math.round(a[1] + (b[1] - a[1]) * t) + ',' + Math.round(a[2] + (b[2] - a[2]) * t) + ',' + Math.round(a[3] + (b[3] - a[3]) * t) + ')';
}
const colX = function(c){ return heatLeft + c * heatColW; };
const rowY = function(r){ return heatTop + r * heatRowH; };
const panelD = document.getElementById('panel-d');
heatmapRows.forEach(function(row, r){
  row.forEach(function(v, c){
    const cell = mk('rect', {x: colX(c), y: rowY(r), width: heatColW + .6, height: heatRowH + .6, fill: heatColor(v)}, panelD);
    
    
  });
  const label = mk('text', {x: 927, y: rowY(r) + heatRowH / 2 + 5, 'font-size': 13.5}, panelD);
  label.textContent = geneLabels[r];
  
  
});
sampleLabels.forEach(function(name, c){
  const cx = colX(c) + heatColW / 2;
  const isNeu = c < 3;
  const t = mk('text', {transform: 'translate(' + (cx - 17) + ',2456) rotate(90)', 'font-size': 42, textLength: isNeu ? 210 : 83, lengthAdjust: 'spacingAndGlyphs'}, panelD);
  t.textContent = name;
  
  
});
const groupA = mk('rect', {x: heatLeft, y: 885, width: 3 * heatColW, height: 27, fill: '#4abdc5'}, panelD);


const groupB = mk('rect', {x: colX(3), y: 885, width: 3 * heatColW, height: 27, fill: '#f28b82'}, panelD);


const groupTitle = mk('text', {x: 928, y: 909, 'font-size': 26, 'font-weight': 'bold', textLength: 79, lengthAdjust: 'spacingAndGlyphs'}, panelD);
groupTitle.textContent = 'Group';


/* column dendrogram */
const colDendro = ['M355,839 V766 H688 V839','M255,847 V839 H455 V883.5','M189,883.5 V847 H322 V883.5','M588,883.5 V839 H787.6 V849','M720,883.5 V849 H854 V883.5'];
colDendro.forEach(function(d){
  const p = mk('path', {d: d, fill: 'none', stroke: '#000', 'stroke-width': 2}, panelD);
  
  
});
/* row dendrogram: nested [x, left, right], integers = number of leaf rows */
const rowTree = [4,
  [60,
    [63, [71, [88, [100, 8, 4], 5], [80, [98, 4, 3], 5]], [76, 3, 3]],
    [72, [88, 5, 5], [90, 7, 5]]],
  [64,
    [80, [98, 5, 4], 5],
    [73, [92, 3, 3], [92, [102, 6, 5], [100, 6, 8]]]]];
let leafCursor = 0;
function drawBranch(parentX, node){
  const dendroLeafX = heatLeft - 1;
  let spec = node;
  if (typeof node === 'number'){
    if (node === 1){
      const y = rowY(leafCursor) + heatRowH / 2;
      leafCursor++;
      return {x: dendroLeafX, y: y};
    }
    const a = Math.ceil(node / 2), b = node - a;
    spec = [parentX + (dendroLeafX - parentX) * .42, a, b];
  }
  const top = drawBranch(spec[0], spec[1]);
  const bot = drawBranch(spec[0], spec[2]);
  const x = spec[0];
  const path = mk('path', {d: 'M' + top.x + ',' + top.y + ' H' + x + ' V' + bot.y + ' H' + bot.x, fill: 'none', stroke: '#000', 'stroke-width': 1.8}, panelD);
  
  
  return {x: x, y: (top.y + bot.y) / 2};
}
drawBranch(4, rowTree);
/* colorbar */
const cbY = function(v){ return 1049 - v * 102; };
for (let i = 0; i < 111; i++){
  const v = 1.63 - i * 3 / 100 * 1.087;
  const seg = mk('rect', {x: 1018, y: cbY(v), width: 22, height: 3.6, fill: heatColor(v)}, panelD);
  
  
}
colorbarTicks.forEach(function(v){
  const t = mk('text', {x: 1049, y: cbY(v) + 10, 'font-size': 27}, panelD);
  t.textContent = String(v).replace('-', '−');
  
  
});
const legendTitle = mk('text', {x: 1115, y: 904, 'font-size': 26, 'font-weight': 'bold', textLength: 79, lengthAdjust: 'spacingAndGlyphs'}, panelD);
legendTitle.textContent = 'Group';


const legendSwatchA = mk('rect', {x: 1115, y: 911, width: 39, height: 38, fill: '#4abdc5'}, panelD);


const legendSwatchB = mk('rect', {x: 1115, y: 949, width: 39, height: 38, fill: '#f28b82'}, panelD);


const legendTextA = mk('text', {x: 1162, y: 940, 'font-size': 26}, panelD);
legendTextA.textContent = 'Neu5Ac';


const legendTextB = mk('text', {x: 1162, y: 977, 'font-size': 26}, panelD);
legendTextB.textContent = 'WT';



/* ---------- panel F: network ---------- */
const panelF = document.getElementById('panel-f');
const nodeIndex = {};
networkNodesUpper.forEach(function(n){ nodeIndex[n[0]] = {x: 1200 + n[1] * .788, y: 2120 + n[2] * .446, c: n[3]}; });
networkNodesLower.forEach(function(n){ nodeIndex[n[0]] = {x: 1300 + n[1] * .7245, y: 2720 + n[2] * .4636, c: n[3]}; });
const edgeLayers = [[-1.7,'#c9d66b'],[0,'#1f1f1f'],[1.7,'#9a6db3']];
networkEdges.forEach(function(e){
  const a = nodeIndex[e[0]], b = nodeIndex[e[1]];
  const dx = b.x - a.x, dy = b.y - a.y, len = Math.hypot(dx, dy) || 1;
  const nx = -dy / len, ny = dx / len;
  edgeLayers.forEach(function(layer){
    const l = mk('line', {x1: a.x + nx * layer[0], y1: a.y + ny * layer[0], x2: b.x + nx * layer[0], y2: b.y + ny * layer[0], stroke: layer[1], 'stroke-width': 1.1}, panelF);
    
    
  });
});
networkThinEdges.forEach(function(e){
  const a = nodeIndex[e[0]], b = nodeIndex[e[1]];
  const l = mk('line', {x1: a.x, y1: a.y, x2: b.x, y2: b.y, stroke: '#6fb3cf', 'stroke-width': 1.3}, panelF);
  
  
});
Object.keys(nodeIndex).forEach(function(name){
  const n = nodeIndex[name];
  const node = mk('circle', {cx: n.x, cy: n.y, r: 17, fill: n.c, stroke: darken(n.c, .78), 'stroke-width': 2.4}, panelF);
  
  
  const core = mk('ellipse', {cx: n.x, cy: n.y, rx: 5, ry: 7, fill: darken(n.c, .55), 'fill-opacity': .35}, panelF);
  
  
  const t = mk('text', {x: n.x + 16, y: n.y - 17, 'font-size': 11.5, fill: '#222'}, panelF);
  t.textContent = name;
  
  
});

/* ---------- panel G: GO bars ---------- */
const panelG = document.getElementById('panel-g');
const goX = function(v){ return 446 + v * 93; };
const goY = function(i){ return 2743 + i * 22.17; };
const goColors = {BP: '#e8683a', CC: '#259669', MF: '#343a72'};
const goTitle = mk('text', {x: 593, y: 2716, 'font-size': 30, textLength: 427, lengthAdjust: 'spacingAndGlyphs'}, panelG);
goTitle.textContent = 'GO Results of Three Ontologies';


goScores.forEach(function(v, i){
  const bar = mk('rect', {x: goX(0), y: goY(i) - 9, width: goX(v) - goX(0), height: 18, fill: goColors[goOntology[i]]}, panelG);
  
  
  const tick = mk('line', {x1: goX(0) - 4, x2: goX(0), y1: goY(i), y2: goY(i), stroke: '#000', 'stroke-width': 1.5}, panelG);
  
  
  const lines = goTerms[i].split('\n');
  lines.forEach(function(line, k){
    const y = lines.length === 1 ? goY(i) + 4.5 : goY(i) - 2 + k * 13.5;
    const t = mk('text', {x: 439, y: y, 'font-size': 13, 'text-anchor': 'end', fill: '#222'}, panelG);
    t.textContent = line;
    
    
  });
});
const goYAxis = mk('line', {x1: 446, x2: 446, y1: 2729, y2: 3400, stroke: '#000', 'stroke-width': 2}, panelG);


const goXAxis = mk('line', {x1: 445, x2: 1167, y1: 3400, y2: 3400, stroke: '#000', 'stroke-width': 2.5}, panelG);


goTicks.forEach(function(v){
  const tk = mk('line', {x1: goX(v), x2: goX(v), y1: 3400, y2: 3405, stroke: '#000', 'stroke-width': 1.5}, panelG);
  
  
  const t = mk('text', {x: goX(v), y: 3419, 'font-size': 14, 'text-anchor': 'middle', fill: '#222'}, panelG);
  t.textContent = String(v);
  
  
});
const goAxisTitle = mk('text', {x: 688, y: 3444, 'font-size': 29, textLength: 238, lengthAdjust: 'spacingAndGlyphs'}, panelG);
goAxisTitle.textContent = 'Enrichment Score';


goLegend.forEach(function(k, i){
  const sw = mk('rect', {x: 1103, y: 2746 + i * 21, width: 28, height: 20, fill: goColors[k]}, panelG);
  
  
  const t = mk('text', {x: 1140, y: 2761 + i * 21, 'font-size': 15, fill: '#222'}, panelG);
  t.textContent = k;
  
  
});
</script>
</body>
</html>
